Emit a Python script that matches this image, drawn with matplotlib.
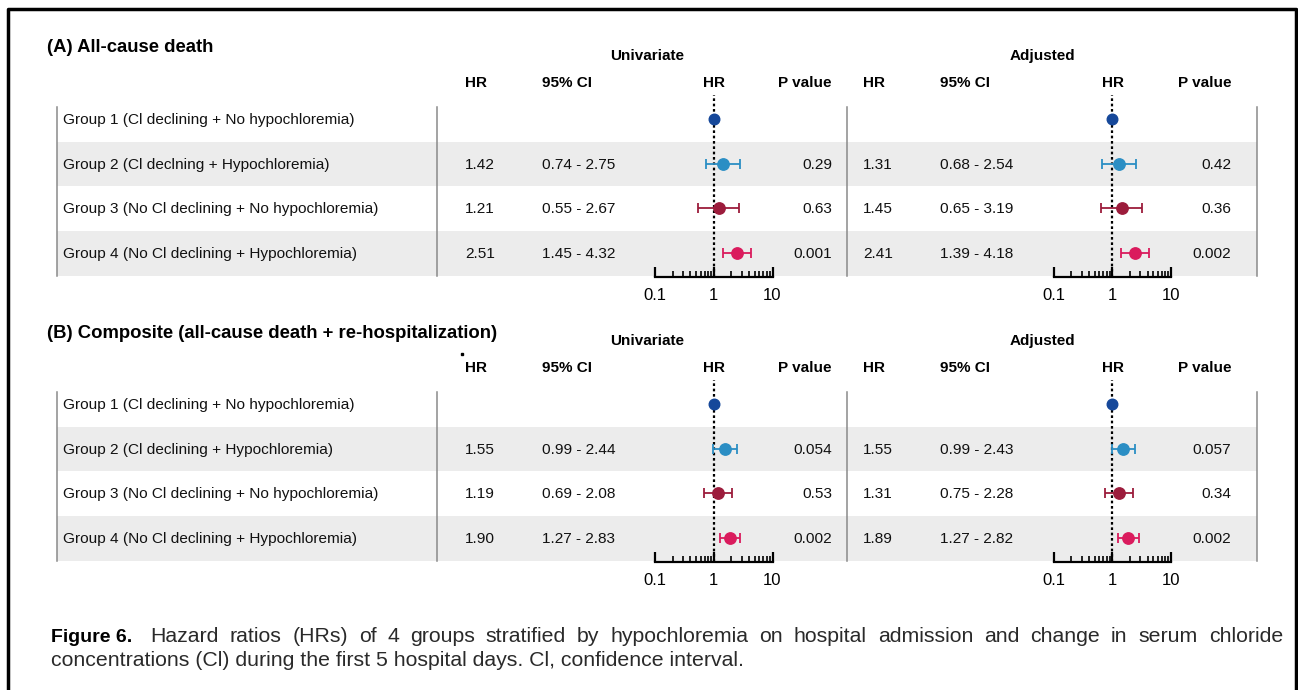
import matplotlib
matplotlib.use("Agg")
import matplotlib.pyplot as plt
from matplotlib.patches import Rectangle
from matplotlib.ticker import LogLocator, NullFormatter, FixedLocator, FixedFormatter

plt.rcParams['font.family'] = ['Liberation Sans', 'DejaVu Sans']

# ---- data ----
groups_a = ["Group 1 (Cl declining + No hypochloremia)",
            "Group 2 (Cl declning + Hypochloremia)",
            "Group 3 (No Cl declining + No hypochloremia)",
            "Group 4 (No Cl declining + Hypochloremia)"]
groups_b = ["Group 1 (Cl declining + No hypochloremia)",
            "Group 2 (Cl declining + Hypochloremia)",
            "Group 3 (No Cl declining + No hypochloremia)",
            "Group 4 (No Cl declining + Hypochloremia)"]

a_uni_hr = [1.0, 1.42, 1.21, 2.51]
a_uni_lo = [None, 0.74, 0.55, 1.45]
a_uni_hi = [None, 2.75, 2.67, 4.32]
a_uni_p = ["", "0.29", "0.63", "0.001"]

a_adj_hr = [1.0, 1.31, 1.45, 2.41]
a_adj_lo = [None, 0.68, 0.65, 1.39]
a_adj_hi = [None, 2.54, 3.19, 4.18]
a_adj_p = ["", "0.42", "0.36", "0.002"]

b_uni_hr = [1.0, 1.55, 1.19, 1.90]
b_uni_lo = [None, 0.99, 0.69, 1.27]
b_uni_hi = [None, 2.44, 2.08, 2.83]
b_uni_p = ["", "0.054", "0.53", "0.002"]

b_adj_hr = [1.0, 1.55, 1.31, 1.89]
b_adj_lo = [None, 0.99, 0.75, 1.27]
b_adj_hi = [None, 2.43, 2.28, 2.82]
b_adj_p = ["", "0.057", "0.34", "0.002"]

colors = ["#16489a", "#2b8ec4", "#9c1c3c", "#da1b5d"]
tick_vals = [0.1, 1, 10]
tick_labels = ["0.1", "1", "10"]

W, H = 1298, 690
fig = plt.figure(figsize=(W / 100, H / 100), dpi=100)
bg = fig.add_axes([0, 0, 1, 1])
bg.set_xlim(0, W)
bg.set_ylim(H, 0)
bg.axis("off")

# frame around the figure
bg.plot([8, 8, 1296, 1296], [690, 9, 9, 690], color="black", lw=2.5)

ROW_GAP = 44.7


def fig_box(x0, y0, x1, y1):
    return [x0 / W, 1 - y1 / H, (x1 - x0) / W, (y1 - y0) / H]


def forest(x0, y0, hr, lo, hi):
    # x0: pixel of 0.1, y0: first row centre
    top, bottom = y0 - 24, y0 + 158
    ax = fig.add_axes(fig_box(x0, top, x0 + 117.5, bottom))
    ax.set_facecolor("none")
    ax.set_xscale("log")
    ax.set_xlim(0.1, 10)
    ax.set_ylim((bottom - y0) / ROW_GAP, (top - y0) / ROW_GAP)
    ax.axvline(1, color="black", ls=(0, (1.2, 1.2)), lw=1.6, zorder=1)
    for i in range(len(hr)):
        if lo[i] is not None:
            ax.errorbar(hr[i], i, xerr=[[hr[i] - lo[i]], [hi[i] - hr[i]]],
                        fmt="o", color=colors[i], ms=8.2, lw=1.3, capsize=3.6,
                        capthick=1.3, zorder=3)
        else:
            ax.plot(hr[i], i, "o", color=colors[i], ms=7.6, zorder=3)
    for s in ["top", "left", "right"]:
        ax.spines[s].set_visible(False)
    ax.spines["bottom"].set_linewidth(1.6)
    ax.set_yticks([])
    ax.xaxis.set_major_locator(FixedLocator(tick_vals))
    ax.xaxis.set_major_formatter(FixedFormatter(tick_labels))
    ax.xaxis.set_minor_locator(LogLocator(base=10, subs=range(2, 10)))
    ax.xaxis.set_minor_formatter(NullFormatter())
    ax.tick_params(axis="x", which="major", direction="in", length=7, width=1.6,
                   labelsize=12, pad=8)
    ax.tick_params(axis="x", which="minor", direction="in", length=4, width=1.2)


def section(dy, title, groups, uni, adj):
    bg.text(47, 48 + dy, title, fontsize=13.3, fontweight="bold", va="center")
    bg.text(647, 56 + dy, "Univariate", fontsize=11, fontweight="bold",
            ha="center", va="center")
    bg.text(1042, 56 + dy, "Adjusted", fontsize=11, fontweight="bold",
            ha="center", va="center")
    hdr = dict(fontsize=11, fontweight="bold", va="center")
    y_h = 83 + dy
    bg.text(465, y_h, "HR", **hdr)
    bg.text(542, y_h, "95% CI", **hdr)
    bg.text(714, y_h, "HR", ha="center", **hdr)
    bg.text(832, y_h, "P value", ha="right", **hdr)
    bg.text(863, y_h, "HR", **hdr)
    bg.text(940, y_h, "95% CI", **hdr)
    bg.text(1113, y_h, "HR", ha="center", **hdr)
    bg.text(1231, y_h, "P value", ha="right", **hdr)

    y_rows = [119 + dy + ROW_GAP * i for i in range(4)]
    for i in (1, 3):
        bg.add_patch(Rectangle((57, y_rows[i] - 22), 1200, 44.5,
                               color="#ececec", lw=0, zorder=0))
    for x in (57, 437, 847, 1257):
        bg.plot([x, x], [y_rows[0] - 12, y_rows[3] + 23], color="#8a8a8a",
                lw=1.1, zorder=1)

    cell = dict(fontsize=11.1, va="center", color="#111111")
    for i, g in enumerate(groups):
        y = y_rows[i] + 1
        bg.text(63, y, g, **cell)
        for (hr, lo, hi, p), xs in zip((uni, adj), ((465, 542, 832), (863, 940, 1231))):
            if lo[i] is None:
                continue
            bg.text(xs[0], y, f"{hr[i]:.2f}", **cell)
            bg.text(xs[1], y, f"{lo[i]:.2f} - {hi[i]:.2f}", **cell)
            bg.text(xs[2], y, p[i], ha="right", **cell)

    forest(655, y_rows[0], *uni[:3])
    forest(1053.5, y_rows[0], *adj[:3])


section(0, "(A) All-cause death", groups_a,
        (a_uni_hr, a_uni_lo, a_uni_hi, a_uni_p),
        (a_adj_hr, a_adj_lo, a_adj_hi, a_adj_p))
section(285, "(B) Composite (all-cause death + re-hospitalization)", groups_b,
        (b_uni_hr, b_uni_lo, b_uni_hi, b_uni_p),
        (b_adj_hr, b_adj_lo, b_adj_hi, b_adj_p))

# stray dot next to HR header in panel B
bg.plot(462, 354, "s", color="black", ms=1.6)

# ---- caption ----
cap_font = ["Liberation Sans", "DejaVu Sans"]
bg.text(51, 637, "Figure 6.", fontsize=14, fontweight="bold", va="center",
        family=["Liberation Sans Narrow", "Liberation Sans", "DejaVu Sans"])
line1 = ("Hazard ratios (HRs) of 4 groups stratified by hypochloremia on hospital "
         "admission and change in serum chloride").split(" ")
line2 = "concentrations (Cl) during the first 5 hospital days. Cl, confidence interval."

fig.canvas.draw()
r = fig.canvas.get_renderer()
words = [bg.text(0, 637, w, fontsize=15.3, va="center", family=cap_font,
                 color="#2a2a2a") for w in line1]
widths = [t.get_window_extent(r).width for t in words]
x_start, x_end = 150, 1283
gap = (x_end - x_start - sum(widths)) / (len(words) - 1)
x = x_start
for t, w in zip(words, widths):
    t.set_x(x)
    x += w + gap
bg.text(51, 661, line2, fontsize=15.3, va="center", family=cap_font,
        color="#2a2a2a")

fig.savefig("out.png", dpi=100)
